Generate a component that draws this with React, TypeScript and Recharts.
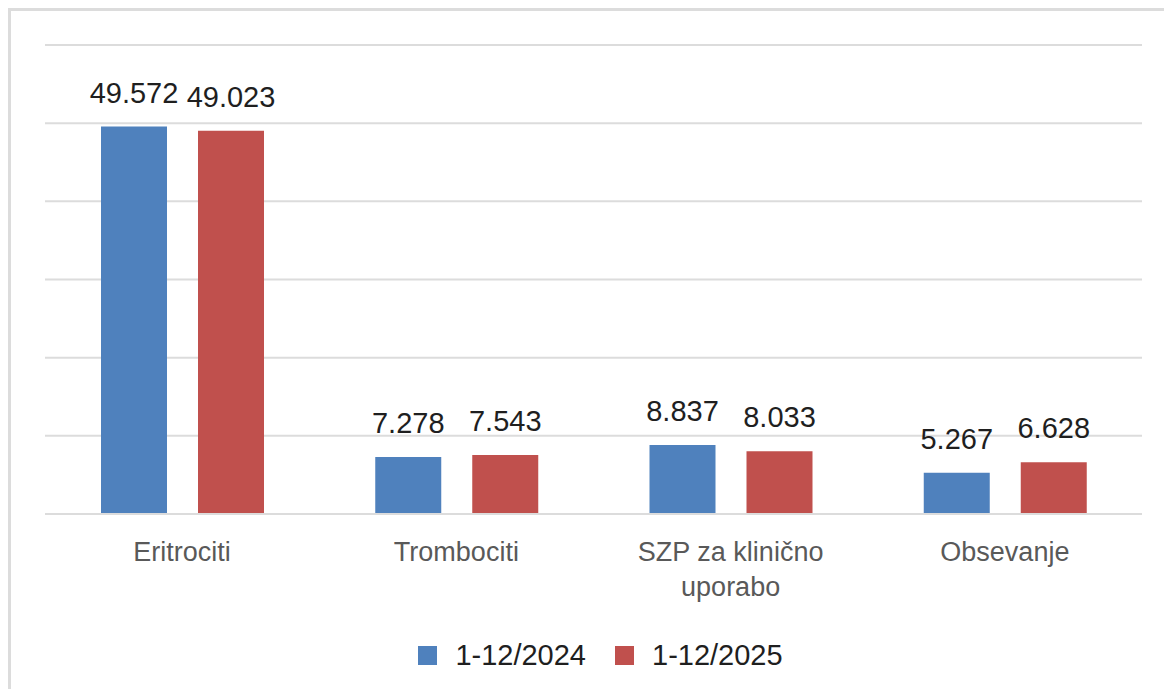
import React from "react"
import { Bar, BarChart, CartesianGrid, LabelList, Legend, XAxis, YAxis } from "recharts"

const categories = ["Eritrociti", "Trombociti", "SZP za klinično uporabo", "Obsevanje"]
const values2024 = [49.572, 7.278, 8.837, 5.267]
const values2025 = [49.023, 7.543, 8.033, 6.628]
const seriesNames = ["1-12/2024", "1-12/2025"]
const yTicks = [0, 10, 20, 30, 40, 50, 60]

const BLUE = "#4F81BD"
const RED = "#C0504D"
const FONT = "'Liberation Sans', Arial, sans-serif"

const data = categories.map((name, i) => ({
  name,
  a: values2024[i],
  b: values2025[i],
}))

const fmt = (v: number) => v.toFixed(3)

// greedy word wrap on character count, enough for these short labels
function wrapWords(text: string, maxChars: number) {
  const lines: string[] = []
  let cur = ""
  for (const w of text.split(" ")) {
    const next = cur ? cur + " " + w : w
    if (next.length > maxChars && cur) {
      lines.push(cur)
      cur = w
    } else {
      cur = next
    }
  }
  if (cur) lines.push(cur)
  return lines
}

function CategoryTick(props: any) {
  const { x, y, payload } = props
  const lines = wrapWords(String(payload.value), 16)
  return (
    <text
      x={x}
      y={y + 39}
      textAnchor="middle"
      fill="#595959"
      fontSize={27}
      fontFamily={FONT}
    >
      {lines.map((l, i) => (
        <tspan key={i} x={x} dy={i === 0 ? 0 : 35}>
          {l}
        </tspan>
      ))}
    </text>
  )
}

function LegendBox() {
  const items = [
    { label: seriesNames[0], color: BLUE },
    { label: seriesNames[1], color: RED },
  ]
  return (
    <div
      style={{
        display: "flex",
        justifyContent: "center",
        alignItems: "center",
        height: 34,
        paddingLeft: 14,
        fontFamily: FONT,
        fontSize: 29,
        color: "#1f1f1f",
      }}
    >
      {items.map((it, i) => (
        <div key={it.label} style={{ display: "flex", alignItems: "center", marginRight: i === 0 ? 29 : 0 }}>
          <span style={{ width: 19, height: 19, background: it.color, display: "inline-block", marginRight: 18 }} />
          <span>{it.label}</span>
        </div>
      ))}
    </div>
  )
}

export default function App() {
  return (
    <div
      style={{
        width: 1156,
        height: 681,
        overflow: "hidden",
        borderLeft: "3px solid #dcdcdc",
        borderTop: "3px solid #dcdcdc",
        boxSizing: "border-box",
        background: "#fff",
      }}
    >
      <BarChart
        width={1153}
        height={678}
        data={data}
        margin={{ top: 34, right: 22, left: 34, bottom: 17 }}
        barSize={66}
        barGap={31}
      >
        <CartesianGrid vertical={false} stroke="#dcdcdc" strokeWidth={2} />
        <YAxis hide domain={[0, 60]} ticks={yTicks} />
        <XAxis
          dataKey="name"
          axisLine={{ stroke: "#dcdcdc", strokeWidth: 2 }}
          tickLine={false}
          height={124}
          interval={0}
          tick={<CategoryTick />}
        />
        <Legend verticalAlign="bottom" content={<LegendBox />} />
        <Bar dataKey="a" name={seriesNames[0]} fill={BLUE} isAnimationActive={false}>
          <LabelList
            dataKey="a"
            position="top"
            offset={24}
            formatter={fmt}
            fill="#1f1f1f"
            fontSize={29}
            fontFamily={FONT}
          />
        </Bar>
        <Bar dataKey="b" name={seriesNames[1]} fill={RED} isAnimationActive={false}>
          <LabelList
            dataKey="b"
            position="top"
            offset={24}
            formatter={fmt}
            fill="#1f1f1f"
            fontSize={29}
            fontFamily={FONT}
          />
        </Bar>
      </BarChart>
    </div>
  )
}
